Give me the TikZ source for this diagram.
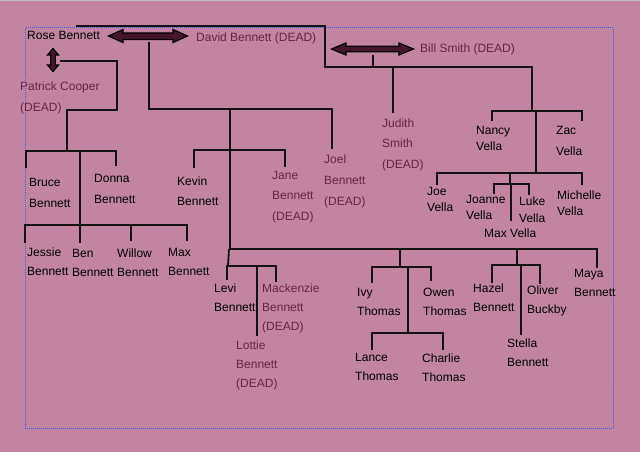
\documentclass[tikz,border=0pt]{standalone}
\usepackage{fontspec}
\setmainfont{Liberation Sans}
\definecolor{bgc}{RGB}{194,132,160}
\definecolor{deadc}{RGB}{106,34,70}
\definecolor{arrc}{RGB}{72,22,44}
\definecolor{linec}{RGB}{22,18,20}
\definecolor{dotc}{RGB}{60,95,235}
\tikzset{
  pers/.style={anchor=base west, inner sep=0pt, align=left, text=black, font=\fontsize{12}{#1}\selectfont},
  pers/.default=19,
  dead/.style={text=deadc},
  ln/.style={draw=linec, line width=1.8pt},
  dblarrow/.style={draw=black, fill=arrc, line width=1.2pt, line join=miter}
}
\begin{document}
\begin{tikzpicture}[x=1pt,y=-1pt]
\useasboundingbox (0,0) rectangle (640,452);
\fill[bgc] (0,0) rectangle (640,452);
\fill[black!25] (0,0) rectangle (640,1.5);
\draw[dotc, line width=1pt, dash pattern=on 1pt off 1pt] (25,28) rectangle (613,428);

% double arrows (marriages)
\path[dblarrow] (108.5,36) -- (123,29.5) -- (123,33) -- (173,33) -- (173,29.5) -- (187.5,36)
  -- (173,42.5) -- (173,39.5) -- (123,39.5) -- (123,42.5) -- cycle;
\path[dblarrow] (331.5,49) -- (346,43) -- (346,46.3) -- (399,46.3) -- (399,43) -- (413.5,49)
  -- (399,55) -- (399,51.8) -- (346,51.8) -- (346,55) -- cycle;
\path[dblarrow] (53,48.5) -- (58.5,55) -- (55.3,55) -- (55.3,65) -- (58.5,65) -- (53,71.5)
  -- (47.5,65) -- (50.7,65) -- (50.7,55) -- (47.5,55) -- cycle;

% people (placed at the baseline of the last line)
\node[pers] (rose) at (27,40) {Rose Bennett};
\node[pers,dead] (david) at (196,42) {David Bennett (DEAD)};
\node[pers,dead] (bill) at (420,53) {Bill Smith (DEAD)};
\node[pers=21,dead] (patrick) at (20,111) {Patrick Cooper\\(DEAD)};
\node[pers=20.5,dead] (judith) at (382,168) {Judith\\Smith\\(DEAD)};
\node[pers=16.5] (nancy) at (476,150.5) {Nancy\\Vella};
\node[pers=21] (zac) at (556,155) {Zac\\Vella};
\node[pers=21] (bruce) at (29,207) {Bruce\\Bennett};
\node[pers=21] (donna) at (94,203) {Donna\\Bennett};
\node[pers=20] (kevin) at (177,205) {Kevin\\Bennett};
\node[pers=20.5,dead] (jane) at (272,220) {Jane\\Bennett\\(DEAD)};
\node[pers=21,dead] (joel) at (324,205) {Joel\\Bennett\\(DEAD)};
\node[pers] (jessie) at (27,275) {Jessie\\Bennett};
\node[pers] (ben) at (72,276) {Ben\\Bennett};
\node[pers] (willow) at (117,276) {Willow\\Bennett};
\node[pers] (maxb) at (168,275) {Max\\Bennett};
\node[pers=16] (joe) at (427,211) {Joe\\Vella};
\node[pers=16.5] (joanne) at (466,219.5) {Joanne\\Vella};
\node[pers=17] (luke) at (519,222) {Luke\\Vella};
\node[pers=16] (michelle) at (557,215) {Michelle\\Vella};
\node[pers] (maxv) at (484,237) {Max Vella};
\node[pers] (levi) at (214,311) {Levi\\Bennett};
\node[pers,dead] (mackenzie) at (262,330) {Mackenzie\\Bennett\\(DEAD)};
\node[pers,dead] (lottie) at (236,387) {Lottie\\Bennett\\(DEAD)};
\node[pers] (ivy) at (357,315) {Ivy\\Thomas};
\node[pers] (owen) at (423,315) {Owen\\Thomas};
\node[pers] (lance) at (355,380) {Lance\\Thomas};
\node[pers] (charlie) at (422,381) {Charlie\\Thomas};
\node[pers] (hazel) at (473,311) {Hazel\\Bennett};
\node[pers] (oliver) at (527,313) {Oliver\\Buckby};
\node[pers] (stella) at (507,366) {Stella\\Bennett};
\node[pers] (maya) at (574,296) {Maya\\Bennett};

% top line to Smith side
\draw[ln] (76,26) -- (325,26) -- (325,67) -- (532,67) -- (532,111);
\draw[ln] (373,55) -- (373,67);
\draw[ln] (393,67) -- (393,113);
\draw[ln] (492,121) -- (492,111) -- (582,111) -- (582,121);
\draw[ln] (536,111) -- (536,173);
\draw[ln] (437,185) -- (437,173) -- (582,173) -- (582,185);
\draw[ln] (510,173) -- (510,184);
\draw[ln] (494,194) -- (494,184) -- (529,184) -- (529,195);
\draw[ln] (511,184) -- (511,221);

% David side
\draw[ln] (149,42) -- (149,109) -- (332,109) -- (332,149);
\draw[ln] (230,109) -- (230,249);
\draw[ln] (194,168) -- (194,150) -- (285,150) -- (285,167);
\draw[ln] (230,249) -- (597,249) -- (597,268);
\draw[ln] (229,249) -- (228,266);
\draw[ln] (227,280) -- (227,266) -- (276,266) -- (276,282);
\draw[ln] (257,266) -- (257,336);
\draw[ln] (400,249) -- (400,267);
\draw[ln] (372,283) -- (372,267) -- (431,267) -- (431,281);
\draw[ln] (408,267) -- (408,333);
\draw[ln] (372,350) -- (372,333) -- (443,333) -- (443,350);
\draw[ln] (517,249) -- (517,265);
\draw[ln] (492,283) -- (492,265) -- (540,265) -- (540,284);
\draw[ln] (521,265) -- (521,335);

% Patrick side
\draw[ln] (60,61) -- (117,61) -- (117,110) -- (67,110) -- (67,151);
\draw[ln] (26,168) -- (26,151) -- (116,151) -- (116,166);
\draw[ln] (80,151) -- (80,243);
\draw[ln] (25,243) -- (25,225) -- (187,225) -- (187,241);
\draw[ln] (131,225) -- (131,241);
\end{tikzpicture}
\end{document}
